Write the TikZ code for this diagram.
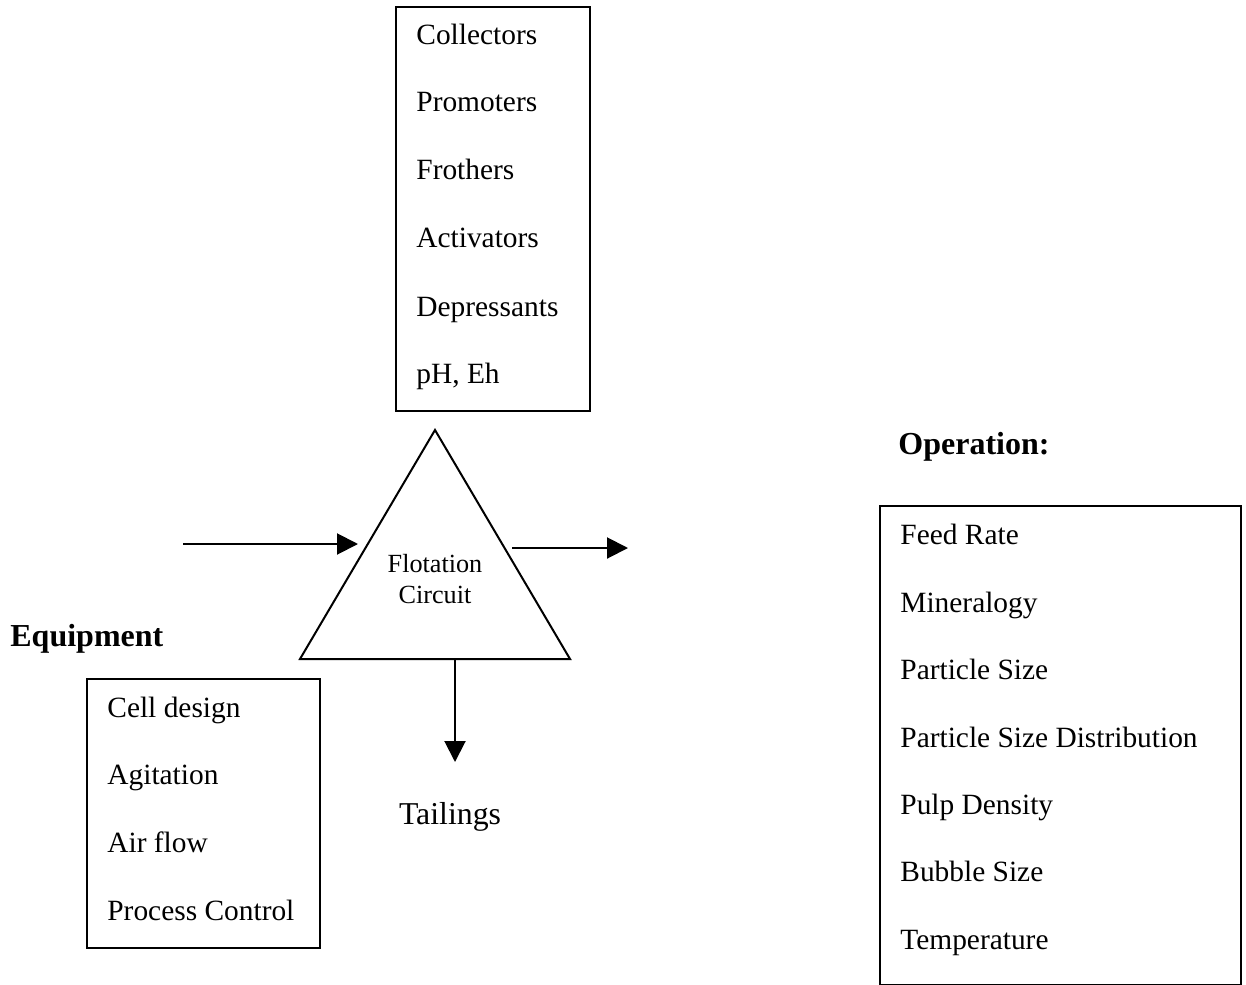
\documentclass[tikz,border=0pt]{standalone}
\usepackage{fontspec}
\setmainfont{Liberation Serif}
\usetikzlibrary{arrows.meta}
\begin{document}
\begin{tikzpicture}[x=0.5pt,y=-0.5pt,
  item/.style={anchor=base west, inner sep=0pt, font=\fontsize{14.7}{17}\selectfont},
  head/.style={anchor=base west, inner sep=0pt, font=\fontsize{16}{19}\selectfont\bfseries},
  ctext/.style={anchor=base, inner sep=0pt, font=\fontsize{13.1}{15}\selectfont},
  box/.style={draw, line width=0.8pt, anchor=north west, inner sep=0pt},
  arr/.style={line width=1pt, -{Triangle[length=10.5pt,width=10.5pt]}},
  tri/.style={line width=1pt, line join=miter}]
\useasboundingbox (0,0) rectangle (1246,984);
% chemistry box
\node[box, minimum width=97pt, minimum height=202pt] (chem) at (395,6) {};
\node[item] (c1) at (416,45) {Collectors};
\node[item] (c2) at (416,112) {Promoters};
\node[item] (c3) at (416,180) {Frothers};
\node[item] (c4) at (416,248) {Activators};
\node[item] (c5) at (416,316) {Depressants};
\node[item] (c6) at (416,383) {pH, Eh};
% triangle
\coordinate (apex) at (435,430);
\coordinate (bl) at (300,659);
\coordinate (br) at (570,659);
\draw[tri] (apex) -- (br) -- (bl) -- cycle;
\node[ctext] (fl) at (435,572) {Flotation};
\node[ctext] (ci) at (435,603) {Circuit};
% arrows
\coordinate (feed) at (183,544);
\coordinate (feedend) at (358,544);
\draw[arr] (feed) -- (feedend);
\coordinate (conc) at (512,548);
\coordinate (concend) at (628,548);
\draw[arr] (conc) -- (concend);
\coordinate (tail) at (455,659);
\coordinate (tailend) at (455,762);
\draw[arr] (tail) -- (tailend);
\node[anchor=base, inner sep=0pt, font=\fontsize{15.9}{19}\selectfont] (tl) at (450,824) {Tailings};
% equipment
\node[head] (eqh) at (10,646) {Equipment};
\node[box, minimum width=116.5pt, minimum height=134.5pt] (equip) at (86,678) {};
\node[item] (e1) at (107,717) {Cell design};
\node[item] (e2) at (107,784) {Agitation};
\node[item] (e3) at (107,852) {Air flow};
\node[item] (e4) at (107,920) {Process Control};
% operation
\node[head] (oph) at (898,454) {Operation:};
\node[box, minimum width=180.5pt, minimum height=239.5pt] (oper) at (879,505) {};
\node[item] (o1) at (900,544) {Feed Rate};
\node[item] (o2) at (900,612) {Mineralogy};
\node[item] (o3) at (900,679) {Particle Size};
\node[item] (o4) at (900,747) {Particle Size Distribution};
\node[item] (o5) at (900,814) {Pulp Density};
\node[item] (o6) at (900,881) {Bubble Size};
\node[item] (o7) at (900,949) {Temperature};
\end{tikzpicture}
\end{document}
